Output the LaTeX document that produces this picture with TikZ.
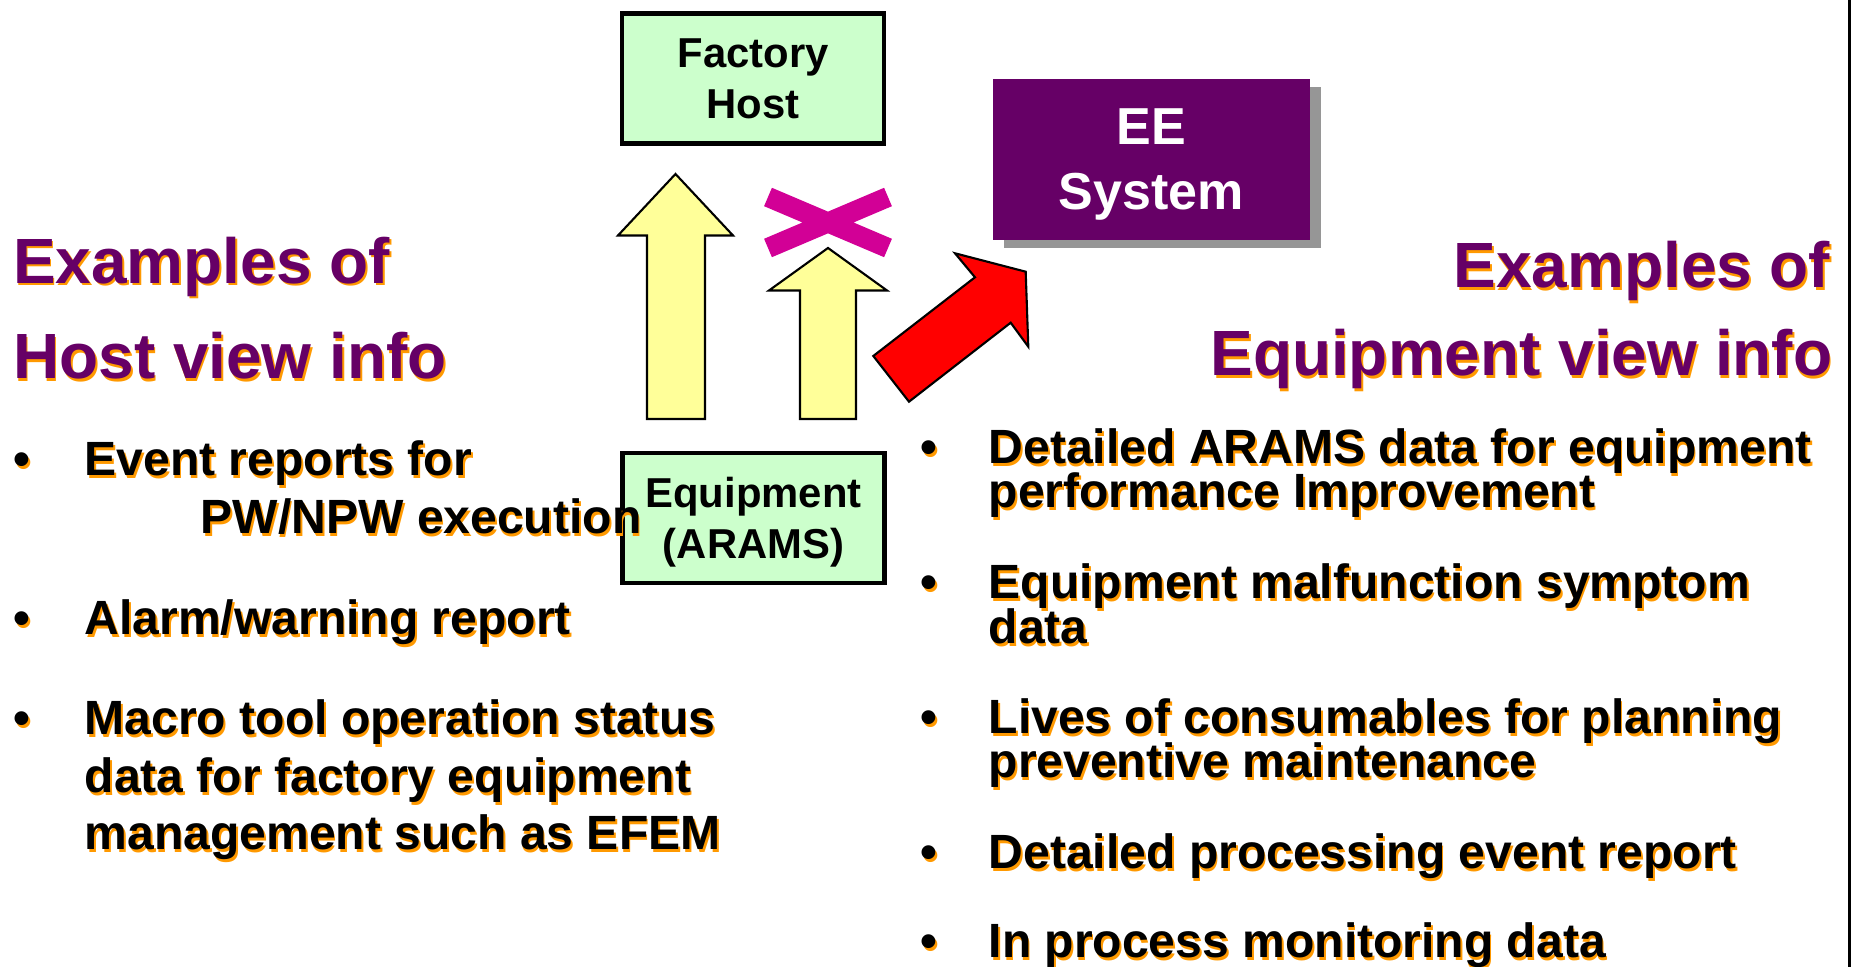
\documentclass[tikz,border=0pt]{standalone}
\usepackage{fontspec}
\setmainfont{Liberation Sans}
\usetikzlibrary{shadows}
\definecolor{boxgreen}{HTML}{CCFFCC}
\definecolor{arrowyellow}{HTML}{FFFF99}
\definecolor{eepurple}{HTML}{660066}
\definecolor{shadowgray}{HTML}{969696}
\definecolor{crossmagenta}{HTML}{D20096}
\definecolor{shorange}{HTML}{FF9900}
%% text with an orange shadow: [style]{name}{position}{text}
\newcommand{\shtext}[4][]{%
  \node[inner sep=0,#1,text=shorange,xshift=0.5pt,yshift=-0.65pt] (#2-sh) at (#3) {#4};
  \node[inner sep=0,#1] (#2) at (#3) {#4};}
\tikzset{
  headtext/.style={anchor=base west,text=eepurple,font=\fontsize{18.2}{20}\selectfont\bfseries},
  bullettext/.style={anchor=base west,font=\fontsize{13.68}{16}\selectfont\bfseries},
  unitbox/.style={draw,line width=1.4pt,fill=boxgreen,minimum width=2.62cm,minimum height=1.30cm,
    align=center,inner sep=0,text depth=0pt,font=\fontsize{11.9}{14.6}\selectfont\bfseries},
  bigarrow/.style={draw,line width=0.6pt,line join=miter},
}
\begin{document}
\begin{tikzpicture}
  \useasboundingbox (0,0) rectangle (18.52,9.67);
  %% host and equipment
  \node[unitbox] (host) at (7.53,8.885) {Factory\\Host};
  \node[unitbox] (equip) at (7.535,4.49) {Equipment\\(ARAMS)};
  %% EE system
  \node[fill=eepurple,text=white,minimum width=3.17cm,minimum height=1.61cm,inner sep=0,
    align=center,text depth=0pt,font=\fontsize{14.8}{18.5}\selectfont\bfseries,
    drop shadow={shadow xshift=0.11cm,shadow yshift=-0.08cm,fill=shadowgray,opacity=1}]
    (ee) at (11.515,8.075) {EE\\System};
  %% arrows
  \draw[bigarrow,fill=arrowyellow] (6.755,7.93) -- (7.33,7.315) -- (7.05,7.315) -- (7.05,5.48)
    -- (6.47,5.48) -- (6.47,7.315) -- (6.18,7.315) -- cycle;
  \draw[bigarrow,fill=arrowyellow] (8.28,7.19) -- (8.87,6.765) -- (8.56,6.765) -- (8.56,5.48)
    -- (8.00,5.48) -- (8.00,6.765) -- (7.69,6.765) -- cycle;
  \draw[bigarrow,fill=red] (8.733,6.11) -- (9.09,5.653) -- (10.107,6.443) -- (10.283,6.203)
    -- (10.257,6.953) -- (9.55,7.137) -- (9.75,6.897) -- cycle;
  %% cross
  \draw[crossmagenta,line width=0.2cm] (7.68,7.70) -- (8.88,7.19) (7.68,7.19) -- (8.88,7.70);
  %% right edge
  \draw[line width=0.03cm] (18.497,0) -- (18.497,9.67);
  %% titles
  \shtext[headtext]{hosttitle1}{0.125,6.835}{Examples of}
  \shtext[headtext]{hosttitle2}{0.125,5.88}{Host view info}
  \shtext[headtext,anchor=base east]{eqtitle1}{18.31,6.79}{Examples of}
  \shtext[headtext,anchor=base east]{eqtitle2}{18.33,5.91}{Equipment view info}
  %% host view items
  \shtext[bullettext]{hb1}{0.13,4.91}{•}
  \shtext[bullettext]{hi1a}{0.84,4.91}{Event reports for}
  \shtext[bullettext]{hi1b}{2.00,4.33}{PW/NPW execution}
  \shtext[bullettext]{hb2}{0.13,3.32}{•}
  \shtext[bullettext]{hi2}{0.84,3.32}{Alarm/warning report}
  \shtext[bullettext]{hb3}{0.13,2.32}{•}
  \shtext[bullettext]{hi3a}{0.84,2.32}{Macro tool operation status}
  \shtext[bullettext]{hi3b}{0.84,1.74}{data for factory equipment}
  \shtext[bullettext]{hi3c}{0.84,1.17}{management such as EFEM}
  %% equipment view items
  \shtext[bullettext]{eb1}{9.20,5.03}{•}
  \shtext[bullettext]{ei1a}{9.88,5.03}{Detailed ARAMS data for equipment}
  \shtext[bullettext]{ei1b}{9.88,4.59}{performance Improvement}
  \shtext[bullettext]{eb2}{9.20,3.68}{•}
  \shtext[bullettext]{ei2a}{9.88,3.68}{Equipment malfunction symptom}
  \shtext[bullettext]{ei2b}{9.88,3.23}{data}
  \shtext[bullettext]{eb3}{9.20,2.33}{•}
  \shtext[bullettext]{ei3a}{9.88,2.33}{Lives of consumables for planning}
  \shtext[bullettext]{ei3b}{9.88,1.89}{preventive maintenance}
  \shtext[bullettext]{eb4}{9.20,0.98}{•}
  \shtext[bullettext]{ei4}{9.88,0.98}{Detailed processing event report}
  \shtext[bullettext]{eb5}{9.20,0.09}{•}
  \shtext[bullettext]{ei5}{9.88,0.09}{In process monitoring data}
\end{tikzpicture}
\end{document}
